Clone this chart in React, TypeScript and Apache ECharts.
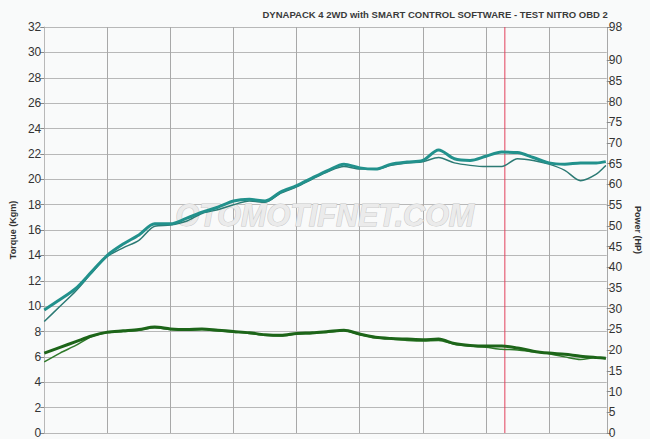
import React, { useEffect, useRef } from "react";
import * as echarts from "echarts";

// x positions in grid-division units (rpm axis unlabeled in the picture)
const xs = [0, 0.25, 0.5, 0.75, 1, 1.25, 1.5, 1.75, 2, 2.25, 2.5, 2.75, 3, 3.25, 3.5, 3.75, 4, 4.25, 4.5, 4.75, 5, 5.25, 5.5, 5.75, 6, 6.25, 6.5, 6.75, 7, 7.25, 7.5, 7.75, 8, 8.25, 8.5, 8.75, 8.9];

// Power (HP), right axis
const powerRunA = [29.7, 32.2, 34.9, 38.9, 42.9, 45.6, 47.8, 50.5, 50.5, 51.8, 53.3, 54.5, 56.0, 56.4, 56.0, 58.2, 59.7, 61.6, 63.4, 64.9, 64.0, 63.7, 64.9, 65.4, 65.8, 68.3, 66.2, 65.8, 66.8, 67.8, 67.7, 66.5, 65.2, 64.9, 65.2, 65.2, 65.5];
const powerRunB = [26.9, 30.6, 34.3, 38.6, 42.6, 44.7, 46.5, 49.9, 50.2, 51.1, 53.0, 53.9, 55.1, 56.0, 55.7, 57.9, 59.4, 61.3, 63.1, 64.3, 63.7, 63.7, 64.6, 65.2, 65.5, 66.5, 65.2, 64.6, 64.3, 64.3, 66.2, 65.8, 64.9, 63.4, 60.9, 62.5, 64.6];

// Torque (Kgm), left axis
const torqueRunA = [6.3, 6.75, 7.2, 7.65, 7.95, 8.05, 8.15, 8.35, 8.2, 8.15, 8.2, 8.1, 8.0, 7.9, 7.75, 7.7, 7.85, 7.9, 8.0, 8.1, 7.8, 7.55, 7.45, 7.4, 7.35, 7.4, 7.05, 6.9, 6.85, 6.85, 6.7, 6.45, 6.3, 6.2, 6.05, 5.95, 5.9];
const torqueRunB = [5.6, 6.3, 6.9, 7.6, 7.9, 8.0, 8.1, 8.3, 8.15, 8.1, 8.15, 8.05, 7.95, 7.85, 7.7, 7.65, 7.8, 7.85, 7.95, 8.05, 7.75, 7.5, 7.4, 7.3, 7.25, 7.3, 7.0, 6.85, 6.75, 6.6, 6.55, 6.4, 6.25, 6.0, 5.8, 5.95, 5.85];

const powerTicks = [0, 5, 10, 15, 20, 25, 30, 35, 40, 45, 50, 55, 60, 65, 70, 75, 80, 85, 90, 98];
const torqueMax = 32;
const markerX = 7.3;

const titleText = "DYNAPACK 4 2WD with SMART CONTROL SOFTWARE - TEST NITRO OBD 2";

const pair = (vals: number[]) => xs.map((x, i) => [x, vals[i]]);

export default function App() {
  const ref = useRef<HTMLDivElement>(null);
  useEffect(() => {
    if (!ref.current) return;
    const chart = echarts.init(ref.current, null, { renderer: "svg" });
    const font = "Liberation Sans, Arial, sans-serif";
    const grey = "#b8b8b8";
    chart.setOption({
      animation: false,
      backgroundColor: "#f9fafa",
      title: {
        text: titleText,
        right: 37,
        top: 4,
        textStyle: { fontSize: 9.5, fontWeight: "bold", color: "#3a3a3a", fontFamily: font },
      },
      grid: { left: 37, right: 38, top: 27, bottom: 4, containLabel: false },
      xAxis: {
        type: "value",
        min: 0,
        max: 8.915,
        interval: 1,
        axisLabel: { show: false },
        axisTick: { show: false },
        axisLine: { show: true, lineStyle: { color: grey } },
        splitLine: { show: true, lineStyle: { color: "#a8a8a8", width: 1 } },
      },
      yAxis: [
        {
          type: "value",
          min: 0,
          max: torqueMax,
          interval: 2,
          name: "Torque (Kgm)",
          nameLocation: "middle",
          nameRotate: 90,
          nameGap: 23,
          nameTextStyle: { fontSize: 9, fontWeight: "bold", color: "#333", fontFamily: font },
          axisLine: { show: true, lineStyle: { color: grey } },
          axisTick: { show: true, length: 4, lineStyle: { color: "#888" } },
          axisLabel: { fontSize: 12, color: "#333", margin: 3, fontFamily: font },
          splitLine: { show: true, lineStyle: { color: grey, width: 1 } },
        },
        {
          type: "value",
          min: 0,
          max: 98,
          position: "right",
          name: "Power (HP)",
          nameLocation: "middle",
          nameRotate: -90,
          nameGap: 21,
          nameTextStyle: { fontSize: 9, fontWeight: "bold", color: "#333", fontFamily: font },
          axisLine: { show: false },
          axisTick: { show: true, length: 4, customValues: powerTicks, lineStyle: { color: "#888" } },
          axisLabel: { fontSize: 12, color: "#333", margin: 2, fontFamily: font, customValues: powerTicks },
          splitLine: { show: false },
        },
      ],
      graphic: [
        {
          type: "text",
          left: 175,
          top: 199,
          z: 1,
          silent: true,
          style: {
            text: "OTOMOTIFNET.COM",
            font: "italic bold 30.5px Liberation Sans, Arial, sans-serif",
            fill: "#ebebeb",
            stroke: "#c6c6c6",
            lineWidth: 1,
          },
        },
      ],
      series: [
        {
          type: "line",
          yAxisIndex: 0,
          data: [[markerX, 0], [markerX, torqueMax]],
          showSymbol: false,
          lineStyle: { color: "#e2405c", width: 1 },
          z: 2,
          silent: true,
        },
        {
          type: "line",
          yAxisIndex: 0,
          data: pair(torqueRunB),
          showSymbol: false,
          smooth: 0.3,
          lineStyle: { color: "#2f7a2a", width: 1.5 },
          z: 3,
        },
        {
          type: "line",
          yAxisIndex: 0,
          data: pair(torqueRunA),
          showSymbol: false,
          smooth: 0.3,
          lineStyle: { color: "#1d6519", width: 3 },
          z: 4,
        },
        {
          type: "line",
          yAxisIndex: 1,
          data: pair(powerRunB),
          showSymbol: false,
          smooth: 0.3,
          lineStyle: { color: "#2c7a74", width: 1.5 },
          z: 3,
        },
        {
          type: "line",
          yAxisIndex: 1,
          data: pair(powerRunA),
          showSymbol: false,
          smooth: 0.3,
          lineStyle: { color: "#22918c", width: 3 },
          z: 4,
        },
      ],
    });
    return () => chart.dispose();
  }, []);
  return (
    <div
      ref={ref}
      style={{ position: "absolute", left: 0, top: 0, width: 650, height: 439 }}
    />
  );
}
